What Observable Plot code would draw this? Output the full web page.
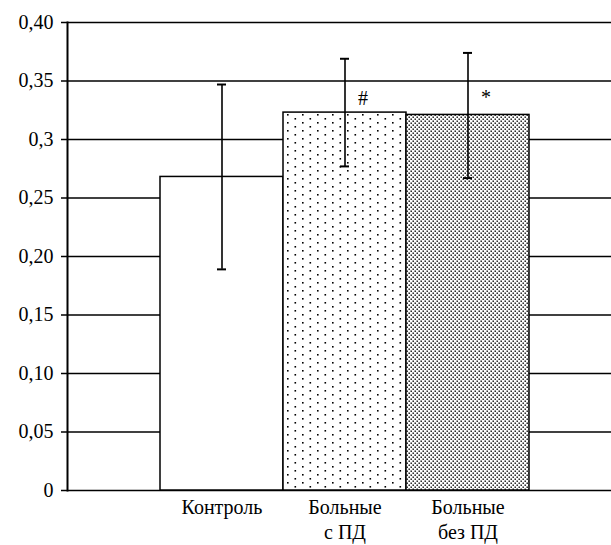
<!DOCTYPE html>
<html>
<head>
<meta charset="utf-8">
<script src="https://cdn.jsdelivr.net/npm/d3@7"></script>
<script src="https://cdn.jsdelivr.net/npm/@observablehq/plot@0.6"></script>
<style>
  html, body { margin: 0; padding: 0; background: #fff; font-family: "Liberation Serif", serif; }
</style>
</head>
<body>
<div id="chart"></div>
<script>
const categories = ["Контроль", "Больные\nс ПД", "Больные\nбез ПД"];
const means = [0.268, 0.323, 0.321];
const lows = [0.189, 0.277, 0.267];
const highs = [0.347, 0.369, 0.374];
const fills = ["white", "url(#dotsSparse)", "url(#dotsDense)"];
const notes = ["", "#", "*"];
const noteY = [0.335, 0.335, 0.336];
const yTicks = [0, 0.05, 0.10, 0.15, 0.20, 0.25, 0.30, 0.35, 0.40];
const yTickLabels = ["0", "0,05", "0,10", "0,15", "0,20", "0,25", "0,3", "0,35", "0,40"];

const data = categories.map((c, i) => ({
  cat: c, mean: means[i], lo: lows[i], hi: highs[i], fill: fills[i], note: notes[i], ny: noteY[i]
}));

const svg = Plot.plot({
  width: 611,
  height: 545,
  marginLeft: 67,
  marginRight: 0,
  marginTop: 22,
  marginBottom: 55,
  style: { fontFamily: "Liberation Serif" },
  x: { domain: categories, paddingInner: 0, paddingOuter: 0.711, align: 0.531, label: null },
  y: { domain: [0, 0.4], label: null },
  marks: [
    Plot.gridY(yTicks, { stroke: "black", strokeOpacity: 1, strokeWidth: 1.6 }),
    Plot.barY(data, { x: "cat", y: "mean", fill: d => d.fill, stroke: "black", strokeWidth: 1.5 }),
    Plot.ruleX(data, { x: "cat", y1: "lo", y2: "hi", stroke: "black", strokeWidth: 1.6 }),
    Plot.tickY(data, { x: "cat", y: "lo", stroke: "black", strokeWidth: 2, insetLeft: 57, insetRight: 57 }),
    Plot.tickY(data, { x: "cat", y: "hi", stroke: "black", strokeWidth: 2, insetLeft: 57, insetRight: 57 }),
    Plot.text(data, { x: "cat", y: "ny", text: "note", dx: 18, fontSize: 20, fill: "black" }),
    Plot.axisY({ ticks: yTicks, tickFormat: (d) => yTickLabels[yTicks.indexOf(d)], tickSize: 6, tickPadding: 8, fontSize: 20, fontVariant: "normal", stroke: "black", strokeWidth: 1.5 }),
    Plot.axisX({ tickSize: 0, tickPadding: 6, fontSize: 20, fontVariant: "normal", lineHeight: 1.25, label: null }),
    Plot.frame({ anchor: "left", stroke: "black", strokeWidth: 2 })
  ]
});

svg.setAttribute("font-family", "Liberation Serif");
svg.querySelectorAll("[font-variant]").forEach(el => el.removeAttribute("font-variant"));
svg.querySelectorAll("g, text, tspan").forEach(t => {
  t.setAttribute("font-family", "Liberation Serif");
});

const ns = "http://www.w3.org/2000/svg";
const defs = document.createElementNS(ns, "defs");
defs.innerHTML = `
  <pattern id="dotsSparse" patternUnits="userSpaceOnUse" width="15" height="8">
    <rect width="15" height="8" fill="white"/>
    <rect x="2" y="2" width="1.6" height="1.6" fill="black"/>
    <rect x="9.5" y="6" width="1.6" height="1.6" fill="black"/>
  </pattern>
  <pattern id="dotsDense" patternUnits="userSpaceOnUse" width="4" height="4">
    <rect width="4" height="4" fill="white"/>
    <rect x="0.5" y="0.5" width="1.4" height="1.4" fill="black"/>
    <rect x="2.5" y="2.5" width="1.4" height="1.4" fill="black"/>
  </pattern>`;
svg.insertBefore(defs, svg.firstChild);
document.getElementById("chart").appendChild(svg);
</script>
</body>
</html>
